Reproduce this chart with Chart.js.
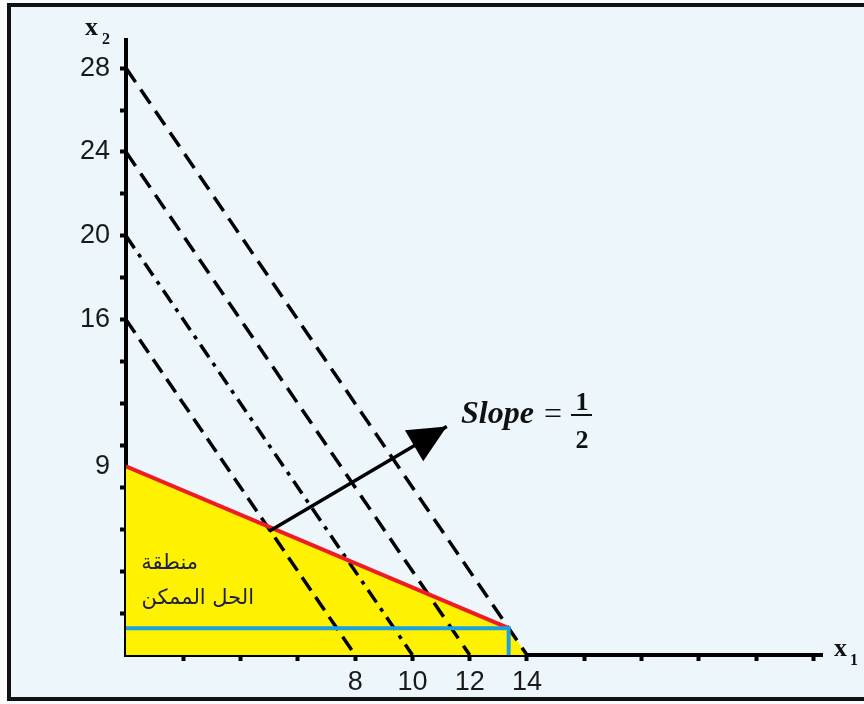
<!DOCTYPE html>
<html>
<head>
<meta charset="utf-8">
<script src="https://cdn.jsdelivr.net/npm/chart.js@4.4.1/dist/chart.umd.min.js"></script>
<style>
    html, body { margin: 0; padding: 0; background: #ffffff; }
    #wrap { width: 864px; height: 704px; }
</style>
</head>
<body>
<div id="wrap"><canvas id="lpChart" width="864" height="704"></canvas></div>
<script>
// iso-profit lines 2*x1 + x2 = c (start on x2 axis, end on x1 axis)
const isoX = [[0, 8], [0, 10], [0, 12], [0, 14]];
const isoY = [[16, 0], [20, 0], [24, 0], [28, 0]];
const isoDash = [[16, 8], [15, 7, 4, 7], [17, 9], [17, 9]];

// red constraint line
const redX = [0, 13.36];
const redY = [9, 1.28];

// blue constraint (horizontal then down to the axis)
const blueX = [0, 13.36, 13.36];
const blueY = [1.28, 1.28, 0];

// feasible region upper edge (filled down to x2 = 0)
const regionX = [0, 13.36, 14];
const regionY = [9, 1.28, 0];

// direction arrow
const arrowX = [5.0, 11.2];
const arrowY = [5.9, 10.9];

// axis ticks and labels
const xTicks = [2, 4, 6, 8, 10, 12, 14, 16, 18, 20, 22, 24];
const xLabels = [8, 10, 12, 14];
const yTicks = [2, 4, 6, 8, 9, 10, 12, 14, 16, 18, 20, 22, 24, 26, 28];
const yLabels = [9, 16, 20, 24, 28];

function pts(xs, ys) {
    return xs.map((x, i) => ({ x: x, y: ys[i] }));
}

const isoSets = isoX.map((xs, i) => ({
    label: 'c' + isoY[i][0],
    data: pts(xs, isoY[i]),
    showLine: true,
    borderColor: '#000000',
    borderWidth: 3.5,
    borderDash: isoDash[i],
    pointRadius: 0,
    fill: false,
    order: 3
}));

const decorPlugin = {
    id: 'decor',
    beforeDraw(chart) {
        const c = chart.ctx;
        c.save();
        c.fillStyle = '#fbfbfb';
        c.fillRect(0, 0, 864, 704);
        c.fillStyle = '#edf6fb';
        c.fillRect(8, 4, 856, 696);
        c.fillStyle = '#111111';
        c.fillRect(7, 3, 857, 4);
        c.fillRect(7, 3, 4, 698);
        c.fillRect(7, 697, 857, 4);
        c.restore();
    },
    afterDatasetsDraw(chart) {
        // arrow head at the end of the arrow dataset
        const meta = chart.getDatasetMeta(chart.data.datasets.findIndex(d => d.label === 'arrow'));
        const p0 = meta.data[0], p1 = meta.data[1];
        const ang = Math.atan2(p1.y - p0.y, p1.x - p0.x);
        const len = 38, half = 18;
        const c = chart.ctx;
        c.save();
        c.fillStyle = '#000000';
        c.beginPath();
        c.moveTo(p1.x, p1.y);
        const bx = p1.x - len * Math.cos(ang), by = p1.y - len * Math.sin(ang);
        c.lineTo(bx + half * Math.sin(ang), by - half * Math.cos(ang));
        c.lineTo(bx - half * Math.sin(ang), by + half * Math.cos(ang));
        c.closePath();
        c.fill();
        c.restore();
    },
    afterDraw(chart) {
        const c = chart.ctx;
        c.save();
        c.fillStyle = '#111111';
        c.textBaseline = 'alphabetic';
        c.textAlign = 'left';
        // axis titles
        c.font = 'bold 26px "Liberation Serif"';
        c.fillText('x', 85, 35);
        c.fillText('x', 834, 656);
        c.font = 'bold 16px "Liberation Serif"';
        c.fillText('2', 102, 44);
        c.fillText('1', 850, 665);

        // slope annotation
        c.font = 'bold italic 32px "Liberation Serif"';
        c.fillText('Slope', 461, 423);
        c.font = '32px "Liberation Serif"';
        c.textAlign = 'center';
        c.fillText('=', 553, 424);
        c.font = 'bold 26px "Liberation Serif"';
        c.fillText('1', 582, 410);
        c.fillText('2', 582, 448);
        c.fillRect(571, 414, 21, 2);

        // region label
        c.fillStyle = '#1e1e4a';
        c.font = '21px "DejaVu Sans"';
        c.direction = 'rtl';
        c.textAlign = 'right';
        c.fillText('منطقة', 198, 569);
        c.fillText('الحل الممكن', 254, 604);
        c.restore();
    }
};

const ctx = document.getElementById('lpChart').getContext('2d');
const lpChart = new Chart(ctx, {
    type: 'scatter',
    data: {
        datasets: [
            {
                label: 'arrow',
                data: pts(arrowX, arrowY),
                showLine: true,
                borderColor: '#000000',
                borderWidth: 3.5,
                pointRadius: 0,
                fill: false,
                order: 0
            },
            {
                label: 'blue',
                data: pts(blueX, blueY),
                showLine: true,
                borderColor: '#1ba1e2',
                borderWidth: 4,
                pointRadius: 0,
                fill: false,
                order: 1
            },
            {
                label: 'red',
                data: pts(redX, redY),
                showLine: true,
                borderColor: '#ee1c25',
                borderWidth: 4,
                pointRadius: 0,
                fill: false,
                order: 2
            },
            ...isoSets,
            {
                label: 'region',
                data: pts(regionX, regionY),
                showLine: true,
                borderWidth: 0,
                borderColor: 'rgba(0,0,0,0)',
                backgroundColor: '#fff200',
                pointRadius: 0,
                fill: 'origin',
                order: 5
            }
        ]
    },
    options: {
        responsive: false,
        animation: false,
        events: [],
        layout: {
            padding: { top: 40, right: 42, left: 0, bottom: 0 }
        },
        plugins: {
            legend: { display: false },
            tooltip: { enabled: false },
            title: { display: false }
        },
        scales: {
            x: {
                type: 'linear',
                min: 0,
                max: 24.3,
                afterFit: function(scale) { scale.height = 49; },
                afterBuildTicks: function(scale) {
                    scale.ticks = xTicks.map(v => ({ value: v }));
                },
                border: { color: '#000000', width: 4 },
                grid: {
                    drawOnChartArea: false,
                    tickLength: 6,
                    tickWidth: 4,
                    tickColor: '#000000'
                },
                ticks: {
                    autoSkip: false,
                    maxRotation: 0,
                    padding: 5,
                    color: '#1a1a1a',
                    font: { family: '"Liberation Sans"', size: 27 },
                    callback: function(value) {
                        return xLabels.includes(value) ? String(value) : '';
                    }
                }
            },
            y: {
                type: 'linear',
                min: 0,
                max: 29.34,
                afterFit: function(scale) { scale.width = 126; },
                afterBuildTicks: function(scale) {
                    scale.ticks = yTicks.map(v => ({ value: v }));
                },
                border: { color: '#000000', width: 4 },
                grid: {
                    drawOnChartArea: false,
                    tickLength: 6,
                    tickWidth: 4,
                    tickColor: function(context) {
                        return context.tick && context.tick.value === 9 ? 'rgba(0,0,0,0)' : '#000000';
                    }
                },
                ticks: {
                    autoSkip: false,
                    padding: 10,
                    color: '#1a1a1a',
                    font: { family: '"Liberation Sans"', size: 27 },
                    callback: function(value) {
                        return yLabels.includes(value) ? String(value) : '';
                    }
                }
            }
        }
    },
    plugins: [decorPlugin]
});
</script>
</body>
</html>
